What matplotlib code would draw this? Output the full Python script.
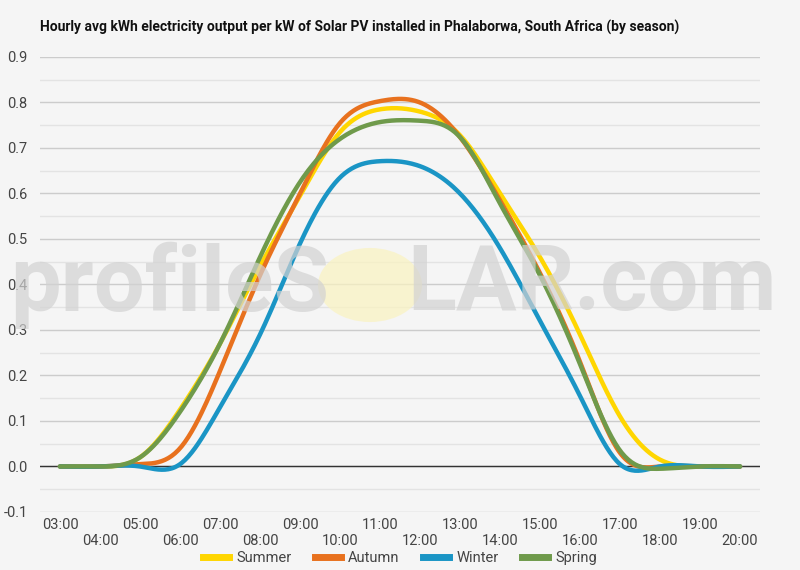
import numpy as np
import matplotlib
matplotlib.use("Agg")
import matplotlib.pyplot as plt
from matplotlib.patches import Circle
from matplotlib.lines import Line2D

hours = ["03:00", "04:00", "05:00", "06:00", "07:00", "08:00", "09:00", "10:00", "11:00",
         "12:00", "13:00", "14:00", "15:00", "16:00", "17:00", "18:00", "19:00", "20:00"]

summer = [0, 0, 0.02, 0.125, 0.27, 0.44, 0.595, 0.735, 0.785, 0.78, 0.728, 0.60, 0.46, 0.29, 0.11, 0.015, 0, 0]
autumn = [0, 0, 0.005, 0.04, 0.21, 0.42, 0.60, 0.755, 0.803, 0.80, 0.724, 0.585, 0.425, 0.23, 0.03, 0, 0, 0]
winter = [0, 0, 0, 0.005, 0.13, 0.29, 0.49, 0.635, 0.671, 0.66, 0.60, 0.48, 0.32, 0.155, 0.005, 0, 0, 0]
spring = [0, 0, 0.02, 0.12, 0.27, 0.46, 0.625, 0.72, 0.757, 0.76, 0.724, 0.578, 0.42, 0.225, 0.035, -0.005, 0, 0]

series = [("Summer", summer, "#FFD600"),
          ("Autumn", autumn, "#E8711E"),
          ("Winter", winter, "#1A95C5"),
          ("Spring", spring, "#6F9A4B")]

BG = "#F5F5F5"
TXT = "#444444"
plt.rcParams["font.family"] = ["Roboto", "DejaVu Sans"]


def smooth(y, n=24):
    # natural cubic spline through the hourly points (smoothed line look)
    y = np.asarray(y, float)
    k = len(y)
    A = np.zeros((k, k))
    r = np.zeros(k)
    A[0, 0] = A[-1, -1] = 1
    for i in range(1, k - 1):
        A[i, i - 1], A[i, i], A[i, i + 1] = 1, 4, 1
        r[i] = 6 * (y[i + 1] - 2 * y[i] + y[i - 1])
    M = np.linalg.solve(A, r)
    xs, ys = [], []
    for i in range(k - 1):
        t = np.linspace(0, 1, n, endpoint=False)
        a = 1 - t
        v = (M[i] * a**3 + M[i + 1] * t**3) / 6 + (y[i] - M[i] / 6) * a + (y[i + 1] - M[i + 1] / 6) * t
        xs.append(i + t)
        ys.append(v)
    xs.append([k - 1])
    ys.append([y[-1]])
    return np.concatenate(xs), np.concatenate(ys)


fig = plt.figure(figsize=(8, 5.7), dpi=100, facecolor=BG)
ax = fig.add_axes([0.05, 0.1018, 0.90, 0.7982], facecolor=BG)

# watermark
wm = dict(fontsize=65, fontweight="bold", color="#d2d2d2", alpha=0.7,
          va="center", family=["Roboto", "DejaVu Sans"], zorder=0)
fig.text(0.411, 0.50, "profileS", ha="right", **wm)
fig.text(0.509, 0.50, "LAR.com", ha="left", **wm)
fig.patches.append(Circle((0.4625, 0.50), 0.065, transform=fig.transFigure,
                          facecolor="#FAF3C0", alpha=0.7, edgecolor="none", zorder=0))

ax.set_xlim(-0.5, len(hours) - 0.5)
ax.set_ylim(-0.1, 0.9)
ax.set_yticks(np.arange(-0.1, 0.91, 0.1))
ax.set_yticks(np.arange(-0.05, 0.9, 0.1), minor=True)
ax.set_yticklabels([f"{v:.1f}" for v in np.arange(-0.1, 0.91, 0.1)])
ax.grid(axis="y", which="major", color="#CCCCCC", linewidth=1)
ax.grid(axis="y", which="minor", color="#E3E3E3", linewidth=1)
ax.axhline(0, color="#333333", linewidth=1, zorder=2)
ax.set_axisbelow(True)

ax.set_xticks(range(len(hours)))
ax.set_xticklabels([h if i % 2 == 0 else "\n" + h for i, h in enumerate(hours)])
ax.tick_params(axis="both", which="both", length=0, labelsize=10.5, labelcolor=TXT)
ax.tick_params(axis="y", pad=9)
ax.tick_params(axis="x", pad=4)
for s in ax.spines.values():
    s.set_visible(False)

handles = []
for name, vals, col in series:
    xs, ys = smooth(vals)
    ax.plot(xs, ys, color=col, linewidth=3.2, solid_capstyle="round", zorder=3)
    handles.append(Line2D([], [], color=col, linewidth=5, label=name))

fig.legend(handles=handles, loc="center", bbox_to_anchor=(0.5, 0.021), ncol=4,
           frameon=False, fontsize=10.5, labelcolor=TXT, handlelength=1.8,
           handletextpad=0.5, columnspacing=1.6)

fig.text(0.05, 0.951, "Hourly avg kWh electricity output per kW of Solar PV installed in Phalaborwa, South Africa (by season)",
         fontsize=10, fontweight="bold", color="#111111", ha="left", va="center")

fig.savefig("out.png", dpi=100, facecolor=BG)
